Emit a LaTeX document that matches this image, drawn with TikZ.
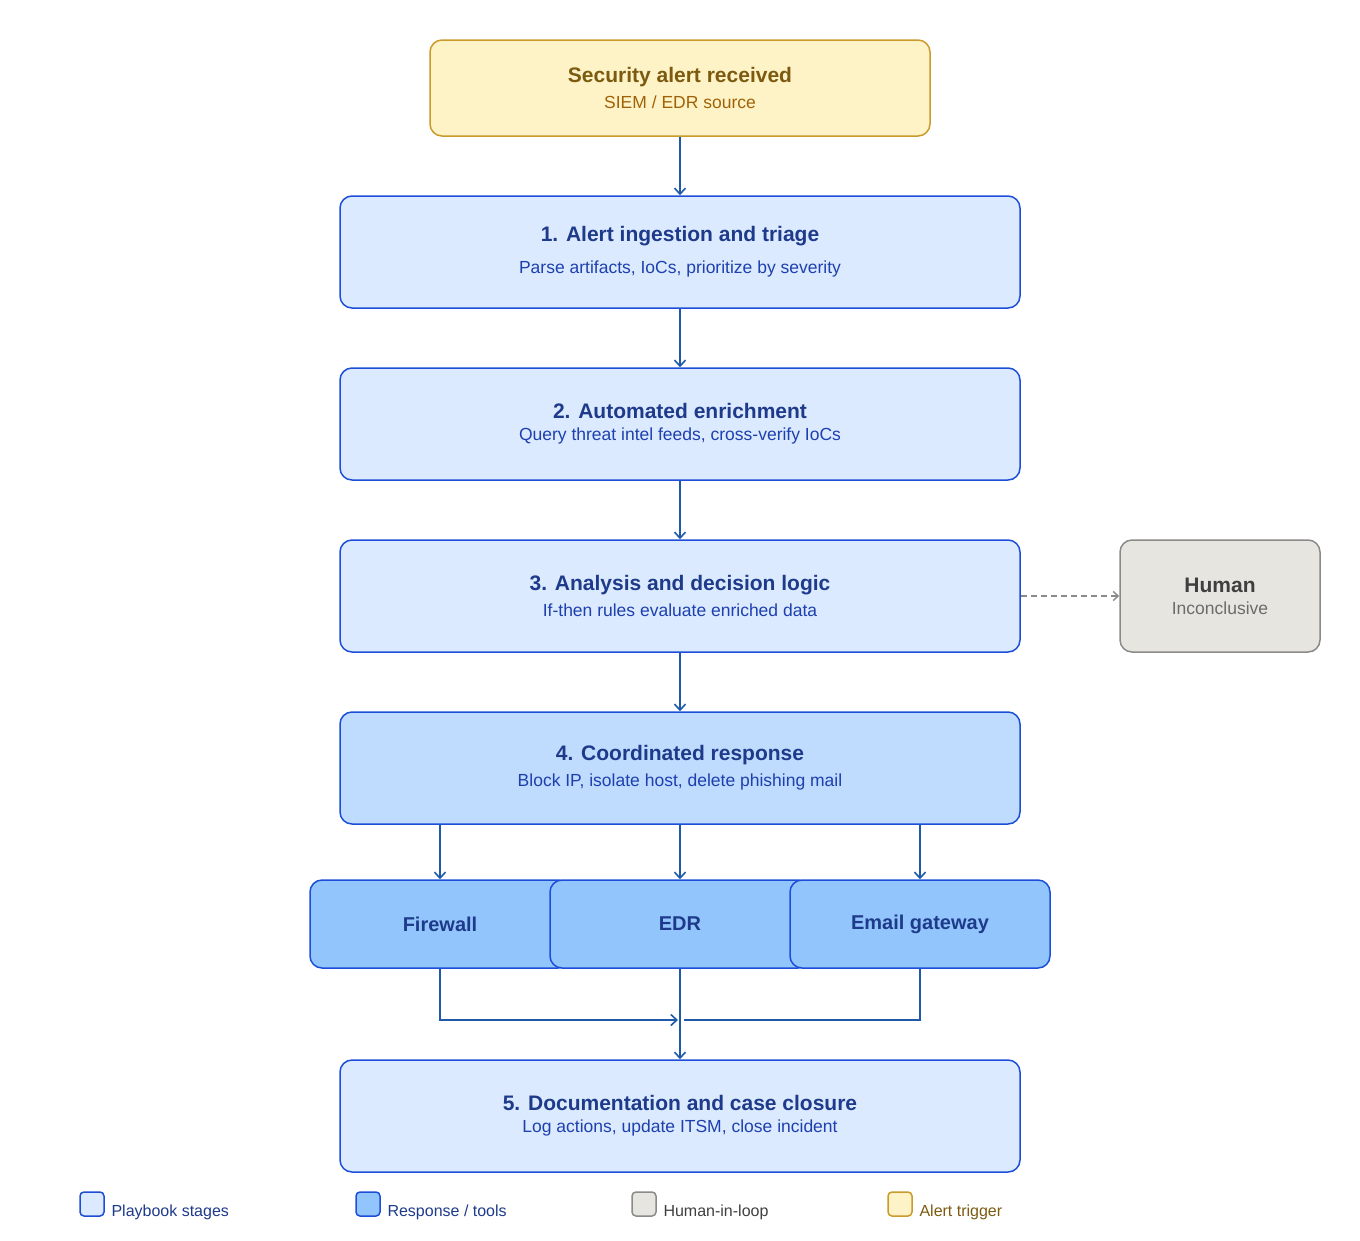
\documentclass[tikz,border=0pt]{standalone}
\usepackage{fontspec}
\setmainfont{Liberation Sans}
\usetikzlibrary{arrows.meta}
\definecolor{stF}{HTML}{DBEAFE}\definecolor{stD}{HTML}{1D4ED8}
\definecolor{tT}{HTML}{1E3A8A}\definecolor{tS}{HTML}{1E40AF}
\definecolor{rF}{HTML}{BFDBFE}\definecolor{tlF}{HTML}{93C5FD}
\definecolor{aF}{HTML}{FEF3C7}\definecolor{aD}{HTML}{CA9A2A}
\definecolor{aT}{HTML}{7C5A10}\definecolor{aS}{HTML}{A16207}
\definecolor{hF}{HTML}{E7E5E0}\definecolor{hD}{HTML}{8A8A8A}
\definecolor{hT}{HTML}{3F3F3F}\definecolor{hS}{HTML}{6B6B6B}
\definecolor{ar}{HTML}{1E5AA8}
\tikzset{
 box/.style={draw=stD,fill=stF,line width=1.5pt,rounded corners=12pt,minimum width=680pt,minimum height=112pt,align=center,inner sep=0pt},
 tool/.style={draw=stD,fill=tlF,line width=1.5pt,rounded corners=12pt,minimum width=260pt,minimum height=88pt,inner sep=0pt,font=\fontsize{20}{24}\selectfont\bfseries,text=tT},
 arr/.style={draw=ar,line width=1.6pt,-{Straight Barb[length=6pt,width=11pt]}},
 ln/.style={draw=ar,line width=1.6pt},
 leg/.style={rounded corners=4pt,line width=1.5pt,minimum width=24pt,minimum height=24pt,inner sep=0pt},
 lt/.style={anchor=west,font=\fontsize{16}{19}\selectfont}
}
\newcommand{\ttl}[1]{{\fontsize{21}{25}\selectfont\bfseries\color{tT}#1}}
\newcommand{\sbt}[1]{{\fontsize{17.5}{21}\selectfont\color{tS}#1}}
\begin{document}
\begin{tikzpicture}[x=1pt,y=-1pt]
\useasboundingbox (0,0) rectangle (1360,1240);
\node[draw=aD,fill=aF,line width=1.5pt,rounded corners=12pt,minimum width=500pt,minimum height=96pt,align=center,inner sep=0pt] (alert) at (680,88)
 {{\fontsize{21}{25}\selectfont\bfseries\color{aT}Security alert received}\\[8pt]{\fontsize{17.5}{21}\selectfont\color{aS}SIEM / EDR source}};
\node[box] (s1) at (680,252) {\ttl{1. Alert ingestion and triage}\\[14pt]\sbt{Parse artifacts, IoCs, prioritize by severity}};
\node[box] (s2) at (680,424) {\ttl{2. Automated enrichment}\\[8pt]\sbt{Query threat intel feeds, cross-verify IoCs}};
\node[box] (s3) at (680,596) {\ttl{3. Analysis and decision logic}\\[8pt]\sbt{If-then rules evaluate enriched data}};
\node[box,fill=rF] (s4) at (680,768) {\ttl{4. Coordinated response}\\[8pt]\sbt{Block IP, isolate host, delete phishing mail}};
\node[box] (s5) at (680,1116) {\ttl{5. Documentation and case closure}\\[8pt]\sbt{Log actions, update ITSM, close incident}};
\node[draw=hD,fill=hF,line width=1.5pt,rounded corners=12pt,minimum width=200pt,minimum height=112pt,align=center,inner sep=0pt] (hum) at (1220,596)
 {{\fontsize{21}{25}\selectfont\bfseries\color{hT}Human}\\[8pt]{\fontsize{17.5}{21}\selectfont\color{hS}Inconclusive}};
\node[tool] (fw) at (440,924) {Firewall};
\node[tool] (edr) at (680,924) {EDR};
\node[tool] (em) at (920,924) {Email gateway};
\draw[arr] (alert) -- (s1);
\draw[arr] (s1) -- (s2);
\draw[arr] (s2) -- (s3);
\draw[arr] (s3) -- (s4);
\draw[draw=hD,line width=1.4pt,dashed,dash pattern=on 6pt off 4pt,-{Straight Barb[length=5pt,width=9pt]}] (s3) -- (hum);
\draw[arr] (s4.south -| fw) -- (fw.north);
\draw[arr] (s4) -- (edr);
\draw[arr] (s4.south -| em) -- (em.north);
\coordinate (ml) at (678,1020);
\coordinate (mr) at (684,1020);
\draw[arr] (fw.south) |- (ml);
\draw[ln] (em.south) |- (mr);
\draw[arr] (edr) -- (s5);
\node[leg,draw=stD,fill=stF] (l1) at (92,1204) {};
\node[lt,text=tT] (l1t) at (108,1212) {Playbook stages};
\node[leg,draw=stD,fill=tlF] (l2) at (368,1204) {};
\node[lt,text=tT] (l2t) at (384,1212) {Response / tools};
\node[leg,draw=hD,fill=hF] (l3) at (644,1204) {};
\node[lt,text=hT] (l3t) at (660,1212) {Human-in-loop};
\node[leg,draw=aD,fill=aF] (l4) at (900,1204) {};
\node[lt,text=aT] (l4t) at (916,1212) {Alert trigger};
\end{tikzpicture}
\end{document}
